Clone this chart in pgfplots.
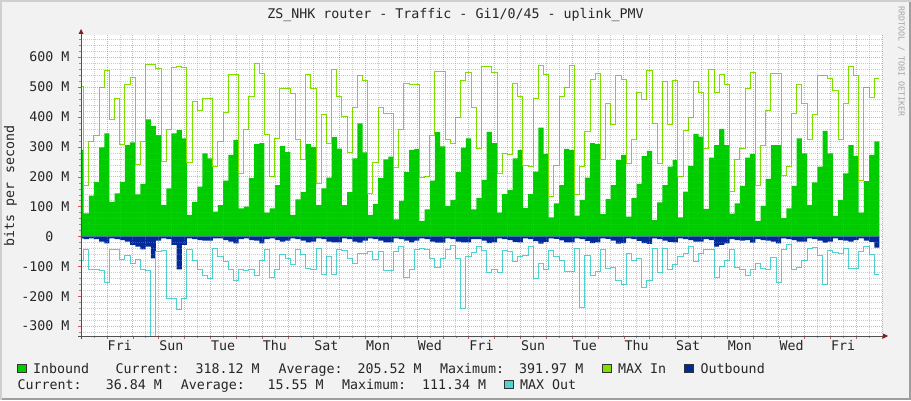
\documentclass[border=0pt]{standalone}
\usepackage{fontspec}
\setmainfont{DejaVu Sans Mono}
\usepackage{pgfplots}
\pgfplotsset{compat=1.18}
\usepackage{pgfplotstable}

\definecolor{bgC}{HTML}{F2F2F2}
\definecolor{shadeA}{HTML}{CFCFCF}
\definecolor{shadeB}{HTML}{9E9E9E}
\definecolor{inC}{HTML}{00CC00}
\definecolor{maxinC}{HTML}{7FE000}
\definecolor{outC}{HTML}{002A97}
\definecolor{maxoutC}{HTML}{50D2D0}
\definecolor{gridC}{HTML}{8F8F8F}
\definecolor{mgridC}{HTML}{DE4F4F}
\definecolor{axisC}{HTML}{505050}
\definecolor{arrowC}{HTML}{801F1F}

% one row per 4.8 h step (x in days from Thu 00:00), values in Mbit/s
\pgfplotstableread{
x     in   maxin  out   maxout
-0.1  289  501   -6    -79
0.1   77   169   -9    -42
0.3   137  317   -6    -112
0.5   182  339   -9    -112
0.7   298  498   -17   -114
0.9   345  555   -23   -153
1.1   116  392   -6    -42
1.3   144  462   -9    -45
1.5   183  309   -12   -76
1.7   306  509   -17   -63
1.9   315  531   -28   -90
2.1   141  241   -34   -76
2.3   176  317   -43   -112
2.5   392  576   -34   -114
2.7   370  576   -73   -345
2.9   339  562   -14   -49
3.1   105  250   -6    -48
3.3   161  358   -9    -207
3.5   345  566   -28   -207
3.7   356  568   -110  -246
3.9   328  565   -28   -207
4.1   72   247   -6    -42
4.3   116  453   -9    -79
4.5   167  420   -12   -112
4.7   278  462   -14   -132
4.9   261  462   -14   -140
5.1   83   234   -6    -41
5.3   105  317   -6    -67
5.5   187  414   -12   -84
5.7   273  543   -17   -112
5.9   323  543   -23   -146
6.1   94   211   -9    -112
6.3   100  358   -6    -114
6.5   195  468   -12   -112
6.7   309  579   -14   -129
6.9   312  546   -23   -79
7.1   80   342   -9    -43
7.3   94   200   -6    -137
7.5   172  328   -12   -112
7.7   303  495   -17   -62
7.9   282  495   -14   -73
8.1   72   477   -6    -93
8.3   124  325   -9    -45
8.5   148  256   -14   -62
8.7   309  543   -20   -107
8.9   300  495   -17   -110
9.1   105  178   -6    -40
9.3   161  409   -9    -127
9.5   197  312   -17   -67
9.7   332  559   -20   -127
9.9   294  468   -20   -42
10.1  105  401   -6    -47
10.3  148  280   -9    -73
10.5  261  432   -17   -90
10.7  378  539   -21   -58
10.9  281  521   -14   -58
11.1  72   144   -6    -49
11.3  109  247   -9    -76
11.5  195  432   -14   -51
11.7  258  412   -20   -114
11.9  267  412   -20   -114
12.1  57   231   -6    -51
12.3  119  358   -9    -32
12.5  215  512   -14   -137
12.7  290  507   -20   -110
12.9  293  507   -14   -43
13.1  52   197   -6    -40
13.3  91   200   -9    -45
13.5  187  338   -17   -73
13.7  349  551   -21   -104
13.9  301  551   -21   -73
14.1  102  325   -6    -45
14.3  122  312   -9    -31
14.5  215  398   -17   -75
14.7  297  523   -20   -240
14.9  328  548   -20   -67
15.1  91   432   -9    -54
15.3  128  295   -9    -32
15.5  189  570   -14   -48
15.7  350  570   -22   -120
15.9  312  549   -20   -110
16.1  80   211   -6    -120
16.3  142  278   -9    -48
16.5  155  273   -12   -51
16.7  261  512   -18   -84
16.9  289  468   -20   -67
17.1  96   239   -6    -65
17.3  142  234   -9    -34
17.5  217  462   -16   -140
17.7  364  572   -24   -90
17.9  276  542   -18   -110
18.1  64   135   -6    -48
18.3  111  237   -8    -67
18.5  172  468   -13   -79
18.7  293  499   -20   -117
18.9  289  572   -20   -117
19.1  70   139   -6    -40
19.3  122  234   -9    -237
19.5  197  351   -15   -64
19.7  312  526   -22   -129
19.9  309  546   -20   -117
20.1  75   256   -6    -42
20.3  125  445   -8    -107
20.5  172  373   -14   -104
20.7  256  540   -24   -146
20.9  273  526   -22   -162
21.1  66   245   -6    -56
21.3  128  325   -9    -81
21.5  176  481   -15   -75
21.7  269  457   -22   -170
21.9  286  555   -25   -146
22.1  55   379   -6    -40
22.3  114  245   -9    -120
22.5  172  518   -14   -40
22.7  234  373   -18   -110
22.9  256  521   -20   -95
23.1  64   202   -6    -67
23.3  150  353   -9    -56
23.5  236  398   -12   -34
23.7  343  518   -17   -84
23.9  334  482   -17   -56
24.1  92   295   -9    -45
24.3  264  559   -12   -43
24.5  306  482   -34   -137
24.7  360  542   -28   -102
24.9  306  507   -23   -79
25.1  76   150   -9    -45
25.3  111  256   -12   -104
25.5  169  295   -14   -110
25.7  264  496   -12   -129
25.9  276  549   -21   -112
26.1  52   172   -9    -90
26.3  102  306   -12   -107
26.5  193  420   -14   -110
26.7  306  546   -17   -71
26.9  306  546   -23   -153
27.1  61   203   -6    -43
27.3  94   234   -9    -26
27.5  169  410   -12   -110
27.7  328  507   -17   -104
27.9  278  445   -17   -82
28.1  105  323   -6    -40
28.3  181  409   -9    -36
28.5  234  540   -14   -65
28.7  353  540   -21   -162
28.9  278  529   -17   -48
29.1  69   490   -6    -54
29.3  122  325   -12   -56
29.5  211  445   -14   -40
29.7  306  568   -17   -106
29.9  269  540   -12   -107
30.1  80   187   -6    -51
30.3  185  498   -14   -34
30.5  273  465   -18   -60
30.7  318  529   -37   -127
30.9  318  529   -37   -127
}\traffic

\newcommand{\rrdfont}{\fontsize{13.3}{16}\selectfont}

\begin{document}
\begin{tikzpicture}
\useasboundingbox (0pt,0pt) rectangle (911pt,400pt);
\fill[bgC] (0pt,0pt) rectangle (911pt,400pt);
\fill[shadeA] (0pt,0pt) rectangle (2pt,400pt);
\fill[shadeA] (0pt,398pt) rectangle (911pt,400pt);
\fill[shadeB] (909pt,0pt) rectangle (911pt,398pt);
\fill[shadeB] (2pt,0pt) rectangle (911pt,2pt);

\begin{axis}[
    at={(81pt,64pt)}, anchor=south west,
    scale only axis, width=801pt, height=301pt,
    xmin=0, xmax=31, ymin=-333, ymax=674,
    enlargelimits=false,
    axis background/.style={fill=white},
    axis lines*=left, axis line style={draw=none},
    axis on top,
    xtick={0,1,...,31}, xticklabels={},
    minor xtick={0.5,1.5,...,30.5},
    extra x ticks={1.5,3.5,...,29.5},
    extra x tick labels={Fri,Sun,Tue,Thu,Sat,Mon,Wed,Fri,Sun,Tue,Thu,Sat,Mon,Wed,Fri},
    extra x tick style={grid=none, major tick length=0pt},
    ytick={-300,-200,...,600},
    yticklabels={-300~M,-200~M,-100~M,0\hphantom{~M},100~M,200~M,300~M,400~M,500~M,600~M},
    minor ytick={-320,-280,-260,-240,-220,-180,-160,-140,-120,-80,-60,-40,-20,
                 20,40,60,80,120,140,160,180,220,240,260,280,320,340,360,380,
                 420,440,460,480,520,540,560,580,620,640,660},
    grid=both,
    major grid style={draw=mgridC, opacity=0.5, dash pattern=on 1pt off 1pt},
    minor grid style={draw=gridC, opacity=0.45, dash pattern=on 1pt off 1pt},
    tick align=outside, major tick length=3pt, minor tick length=2pt,
    major tick style={draw=mgridC},
    minor tick style={draw=gridC},
    tick label style={font=\rrdfont, text=black!85},
    xticklabel style={anchor=base, inner sep=0pt, yshift=-14.7pt},
    yticklabel style={anchor=base east, inner sep=0pt, xshift=-8.4pt, yshift=-4.8pt},
]
\addplot[fill=inC, draw=none, const plot mark left] table[x=x, y=in] {\traffic} \closedcycle;
\addplot[maxinC, line width=1pt, const plot mark left] table[x=x, y=maxin] {\traffic};
\addplot[fill=outC, draw=none, const plot mark left] table[x=x, y=out] {\traffic} \closedcycle;
\addplot[maxoutC, line width=1pt, const plot mark left] table[x=x, y=maxout] {\traffic};
\end{axis}

% axes with arrow heads
\draw[axisC, line width=1pt] (81pt,61pt) -- (81pt,367pt);
\fill[arrowC] (78.5pt,366pt) -- (83.5pt,366pt) -- (81pt,371pt) -- cycle;
\draw[axisC, line width=1pt] (78pt,64pt) -- (883pt,64pt);
\fill[arrowC] (883pt,61.5pt) -- (883pt,66.5pt) -- (888pt,64pt) -- cycle;

% title, axis label, watermark
\node[anchor=base, inner sep=0pt, font=\rrdfont, text=black!85] at (455.5pt,381pt) {ZS\_NHK router - Traffic - Gi1/0/45 - uplink\_PMV};
\node[rotate=90, anchor=base, inner sep=0pt, font=\rrdfont, text=black!85] at (14pt,214pt) {bits per second};
\node[rotate=-90, anchor=base west, inner sep=0pt, font=\fontsize{8.3}{10}\selectfont, text=black!35] at (898.5pt,394pt) {RRDTOOL / TOBI OETIKER};

% legend
\tikzset{lg/.style={anchor=base west, inner sep=0pt, font=\rrdfont, text=black!85},
         box/.style={draw=black!80, line width=0.6pt}}
\filldraw[box, fill=inC] (17.5pt,27.7pt) rectangle (26.5pt,35.7pt);
\node[lg] at (33pt,26.7pt) {Inbound};
\node[lg] at (115.5pt,26.7pt) {Current:};
\node[lg] at (195.5pt,26.7pt) {318.12 M};
\node[lg] at (278.5pt,26.7pt) {Average:};
\node[lg] at (357.5pt,26.7pt) {205.52 M};
\node[lg] at (440pt,26.7pt) {Maximum:};
\node[lg] at (519pt,26.7pt) {391.97 M};
\filldraw[box, fill=maxinC] (602pt,27.7pt) rectangle (611pt,35.7pt);
\node[lg] at (618pt,26.7pt) {MAX In};
\filldraw[box, fill=outC] (684pt,27.7pt) rectangle (693pt,35.7pt);
\node[lg] at (700.5pt,26.7pt) {Outbound};

\node[lg] at (17.5pt,10.7pt) {Current:};
\node[lg] at (105.7pt,10.7pt) {36.84 M};
\node[lg] at (180.7pt,10.7pt) {Average:};
\node[lg] at (267.3pt,10.7pt) {15.55 M};
\node[lg] at (342pt,10.7pt) {Maximum:};
\node[lg] at (421.8pt,10.7pt) {111.34 M};
\filldraw[box, fill=maxoutC] (504pt,11.7pt) rectangle (513pt,19.7pt);
\node[lg] at (520pt,10.7pt) {MAX Out};
\end{tikzpicture}
\end{document}
